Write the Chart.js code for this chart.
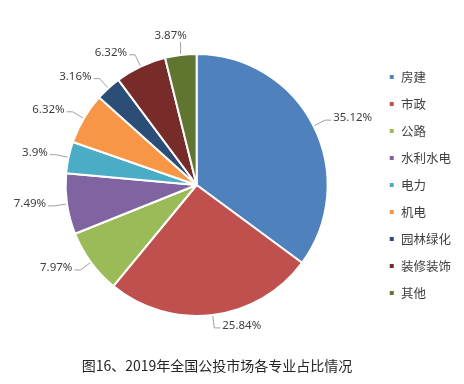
<!DOCTYPE html>
<html>
<head>
<meta charset="utf-8">
<script src="https://cdn.jsdelivr.net/npm/chart.js@4/dist/chart.umd.min.js"></script>
<style>
  html, body { margin: 0; padding: 0; background: #ffffff; }
  #wrap { position: relative; width: 464px; height: 384px; }
  #c { position: absolute; left: 0; top: 0; }
  #title { position: absolute; left: 0; width: 434px; top: 355px; text-align: center;
           font: 14px "Noto Sans CJK SC", sans-serif; color: #262626; line-height: 20px; }
</style>
</head>
<body>
<div id="wrap">
  <canvas id="c" width="464" height="384"></canvas>
  <div id="title">图16、2019年全国公投市场各专业占比情况</div>
</div>
<script>
const categories = ['房建', '市政', '公路', '水利水电', '电力', '机电', '园林绿化', '装修装饰', '其他'];
const shares = [35.12, 25.84, 7.97, 7.49, 3.9, 6.32, 3.16, 6.32, 3.87];
const sliceColors = ['#4F81BD', '#C0504D', '#9BBB59', '#8064A2', '#4BACC6', '#F79646', '#2C4D75', '#772C2A', '#5F7530'];

const leaderLabels = {
  id: 'leaderLabels',
  afterDatasetsDraw(chart) {
    const ctx = chart.ctx;
    const meta = chart.getDatasetMeta(0);
    const values = chart.data.datasets[0].data;
    ctx.save();
    ctx.font = '11.5px "Noto Sans", sans-serif';
    ctx.fillStyle = '#404040';
    ctx.strokeStyle = '#a0a0a0';
    ctx.lineWidth = 1;
    meta.data.forEach((arc, i) => {
      const p = arc.getProps(['x', 'y', 'startAngle', 'endAngle', 'outerRadius'], true);
      const mid = (p.startAngle + p.endAngle) / 2;
      const c = Math.cos(mid), s = Math.sin(mid);
      const r = p.outerRadius;
      const text = String(values[i]) + '%';
      const x0 = p.x + c * (r + 1), y0 = p.y + s * (r + 1);
      ctx.beginPath();
      if (s < -0.95) {
        const y1 = p.y - (r + 12);
        ctx.moveTo(x0, y0);
        ctx.lineTo(x0, y1);
        ctx.stroke();
        ctx.textAlign = 'center';
        ctx.textBaseline = 'bottom';
        ctx.fillText(text, x0 - 10, y1 - 1);
      } else {
        const x1 = p.x + c * (r + 13), y1 = p.y + s * (r + 13);
        const dir = c >= 0 ? 1 : -1;
        const x2 = x1 + dir * 6;
        ctx.moveTo(x0, y0);
        ctx.lineTo(x1, y1);
        ctx.lineTo(x2, y1);
        ctx.stroke();
        ctx.textAlign = dir > 0 ? 'left' : 'right';
        ctx.textBaseline = 'middle';
        ctx.fillText(text, x2 + dir * 2, y1 - 2);
      }
    });
    ctx.restore();
  }
};

new Chart(document.getElementById('c'), {
  type: 'pie',
  data: {
    labels: categories,
    datasets: [{
      data: shares,
      backgroundColor: sliceColors,
      borderColor: '#ffffff',
      borderWidth: 2,
      hoverOffset: 0
    }]
  },
  options: {
    responsive: false,
    animation: false,
    layout: { padding: { top: 53, bottom: 67, left: 19, right: 3 } },
    plugins: {
      tooltip: { enabled: false },
      title: { display: false },
      legend: {
        position: 'right',
        align: 'center',
        labels: {
          boxWidth: 6,
          boxHeight: 6,
          padding: 14.5,
          color: '#404040',
          font: { size: 12.5, family: '"Noto Sans CJK SC", sans-serif' }
        }
      }
    }
  },
  plugins: [leaderLabels]
});
</script>
</body>
</html>
